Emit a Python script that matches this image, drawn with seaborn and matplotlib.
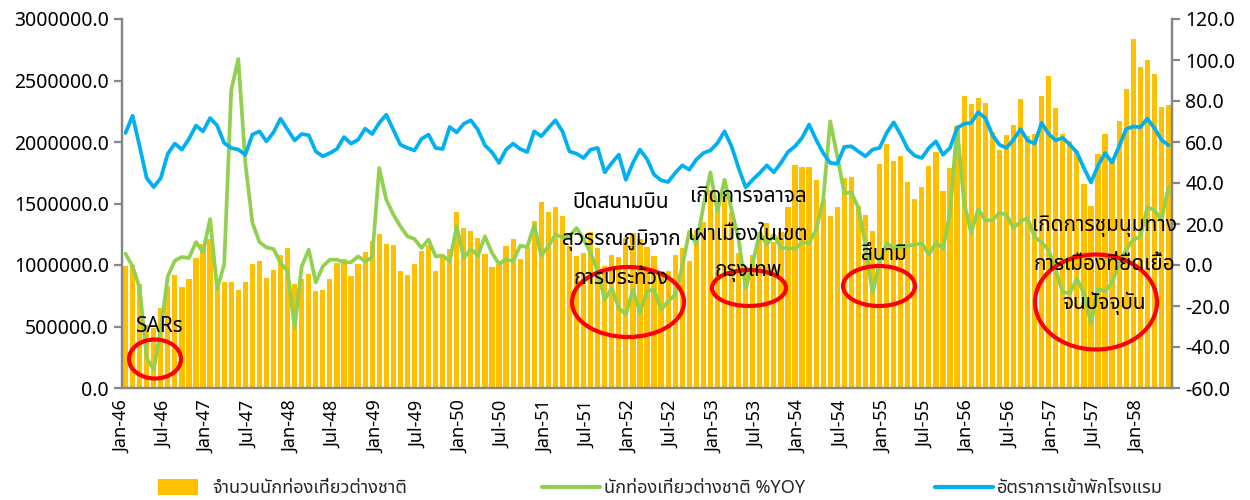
import numpy as np
import pandas as pd
import matplotlib
matplotlib.use("Agg")
import matplotlib.pyplot as plt
import seaborn as sns
from matplotlib import font_manager
from matplotlib.ft2font import FT2Font
from matplotlib.patches import Ellipse, Patch
from matplotlib.lines import Line2D
from matplotlib.ticker import FuncFormatter

# ============================================================
# DATA (monthly, Jan-46 .. May-58)
# ============================================================
visitors = [
    989000, 997000, 848000, 515000, 488000, 650000, 827000, 921000, 818000, 886000, 1057000, 1171000,
    1214000, 867000, 859000, 862000, 799000, 862000, 1008000, 1030000, 892000, 962000, 1079000, 1141000,
    848000, 886000, 927000, 791000, 799000, 886000, 1016000, 1049000, 908000, 1011000, 1103000, 1192000,
    1255000, 1173000, 1160000, 954000, 919000, 1008000, 1117000, 1165000, 949000, 1070000, 1130000, 1434000,
    1304000, 1276000, 1222000, 1092000, 981000, 1011000, 1157000, 1214000, 1051000, 1146000, 1358000, 1512000,
    1428000, 1472000, 1396000, 1157000, 1070000, 1098000, 1266000, 1138000, 989000, 1084000, 1065000, 1220000,
    1260000, 1211000, 1146000, 1076000, 949000, 949000, 1084000, 1138000, 1030000, 1282000, 1350000, 1607000,
    1469000, 1577000, 1428000, 1098000, 989000, 1081000, 1271000, 1341000, 1190000, 1271000, 1472000, 1810000,
    1797000, 1794000, 1694000, 1539000, 1396000, 1474000, 1707000, 1715000, 1477000, 1409000, 1279000, 1821000,
    1986000, 1843000, 1889000, 1677000, 1537000, 1634000, 1808000, 1921000, 1602000, 1791000, 2127000, 2377000,
    2312000, 2360000, 2314000, 2079000, 1938000, 2054000, 2141000, 2350000, 2046000, 2062000, 2371000, 2539000,
    2276000, 2068000, 2011000, 1924000, 1661000, 1482000, 1905000, 2065000, 1843000, 2173000, 2431000, 2837000,
    2612000, 2667000, 2556000, 2285000, 2301000,
]

yoy = [
    5.5, -0.7, -11.2, -45.4, -51.1, -31.5, -5.5, 2.1, 3.9, 3.4, 11.2, 6.2,
    22.4, -11.7, 0.2, 85.2, 100.5, 49.8, 20.8, 11.2, 8.6, 7.8, 1.0, -3.1,
    -30.7, -0.7, 7.5, -8.5, -0.7, 2.6, 2.6, 1.3, 1.3, 4.2, 1.8, 3.7,
    47.3, 31.9, 24.6, 18.9, 14.0, 12.7, 8.3, 12.4, 4.2, 4.6, 1.8, 18.9,
    3.4, 7.8, 4.6, 14.0, 5.9, 0.5, 2.9, 1.8, 9.4, 8.8, 19.5, 4.6,
    9.1, 14.8, 13.7, 14.0, 18.0, 12.7, 5.9, -3.1, -16.9, -11.2, -21.0, -24.2,
    -12.0, -23.4, -12.8, -12.0, -21.8, -17.7, -14.5, -0.7, 16.4, 10.2, 28.6, 45.2,
    26.2, 41.6, 27.0, 12.4, -11.4, 1.0, 15.6, 9.9, 14.8, 8.3, 8.3, 7.8,
    11.1, 10.7, 17.2, 31.9, 70.1, 53.0, 35.1, 35.4, 27.8, 9.9, -13.7, 1.0,
    10.7, 8.3, 8.8, 9.4, 9.9, 10.7, 5.0, 11.1, 7.8, 25.4, 67.3, 30.2,
    15.6, 27.3, 21.8, 21.8, 25.4, 24.6, 18.0, 21.3, 22.9, 13.7, 11.1, 7.2,
    -2.6, -13.3, -13.7, -6.8, -13.7, -28.6, -11.7, -12.8, -8.5, 1.0, 7.5, 12.4,
    13.7, 28.3, 26.7, 22.1, 38.0,
]

occupancy = [
    64.4, 72.8, 57.9, 42.4, 38.0, 42.4, 54.3, 59.2, 56.3, 61.5, 68.0, 65.2,
    71.7, 68.0, 59.5, 57.1, 56.3, 53.8, 63.6, 65.2, 60.3, 64.7, 71.4, 66.0,
    60.8, 63.9, 63.3, 55.4, 53.0, 54.6, 56.6, 62.4, 59.2, 61.1, 66.5, 63.9,
    69.3, 73.3, 66.0, 58.7, 57.1, 55.9, 61.5, 63.6, 57.1, 56.6, 67.3, 64.7,
    68.9, 70.6, 66.0, 58.4, 55.0, 49.8, 56.3, 59.2, 56.6, 55.1, 65.2, 62.8,
    66.8, 70.6, 65.2, 55.4, 54.3, 52.2, 56.3, 57.1, 45.2, 49.8, 53.8, 41.6,
    49.8, 56.3, 51.7, 44.1, 41.3, 40.5, 44.9, 48.6, 46.5, 51.4, 54.6, 55.9,
    59.5, 65.2, 57.9, 47.3, 37.9, 41.6, 44.9, 48.6, 45.2, 49.8, 55.1, 57.9,
    62.0, 68.5, 61.1, 54.6, 49.8, 49.4, 57.6, 57.9, 55.4, 53.0, 56.3, 57.1,
    64.4, 69.6, 63.6, 56.6, 53.3, 52.2, 57.1, 60.3, 53.8, 57.1, 66.8, 68.9,
    69.3, 74.5, 71.7, 63.6, 58.7, 57.1, 61.1, 66.3, 60.8, 59.2, 69.3, 63.9,
    60.8, 62.0, 58.7, 55.0, 47.3, 40.3, 48.4, 54.6, 50.0, 57.9, 66.3, 67.6,
    67.2, 71.4, 66.8, 61.1, 58.4,
]

month_names = ["Jan", "Feb", "Mar", "Apr", "May", "Jun",
               "Jul", "Aug", "Sep", "Oct", "Nov", "Dec"]
months = [f"{m}-{y}" for y in range(46, 59) for m in month_names][:len(visitors)]
tick_labels = months[::6]

label_bar = "จำนวนนักท่องเที่ยวต่างชาติ"
label_yoy = "นักท่องเที่ยวต่างชาติ %YOY"
label_occ = "อัตราการเข้าพักโรงแรม"

# (text lines, centre x px, first line y px, line step px)
notes = [
    (["SARs"], 160, 327, 0),
    (["ปิดสนามบิน", "สุวรรณภูมิจาก", "การประท้วง"], 621, 202, 38.5),
    (["เกิดการจลาจล", "เผาเมืองในเขต", "กรุงเทพ"], 748, 196, 38),
    (["สึนามิ"], 884, 255, 0),
    (["เกิดการชุมนุมทาง", "การเมืองที่ยืดเยื้อ", "จนปัจจุบัน"], 1104, 226, 38.5),
]
# (centre x, centre y, width, height) in px
circles = [(155, 359, 52, 39), (628, 302, 112, 70), (749, 288, 74, 36),
           (879, 286, 72, 40), (1096, 302, 122, 95)]

df = pd.DataFrame({"month": months, "visitors": visitors,
                   "yoy": yoy, "occupancy": occupancy})
df["pos"] = np.arange(len(df))

# ============================================================
# FONT — need one with Thai glyphs
# ============================================================
def find_thai_font():
    prefer = ["Tahoma", "Noto Sans Thai", "Noto Sans Thai UI", "Loma", "Garuda",
              "Sarabun", "TH Sarabun New", "Umpush", "Kinnari", "Norasi"]
    found = []
    for f in font_manager.fontManager.ttflist:
        try:
            if 0x0E01 in FT2Font(f.fname).get_charmap():
                found.append(f.name)
        except Exception:
            pass
    for p in prefer:
        if p in found:
            return p
    return found[0] if found else None

sns.set_theme(style="white")
thai = find_thai_font()
plt.rcParams["font.family"] = ([thai] if thai else []) + ["DejaVu Sans"]

GRAY = "#868686"
W, H = 1250, 500
fig = plt.figure(figsize=(W / 100, H / 100), dpi=100)
ax = fig.add_axes([122 / W, 1 - 388 / H, 1050 / W, 369 / H])

sns.barplot(data=df, x="month", y="visitors", color="#FFC000", saturation=1,
            width=0.74, errorbar=None, linewidth=0, ax=ax)
ax.set_ylim(0, 3000000)
ax.set_yticks(np.arange(0, 3000001, 500000))
ax.yaxis.set_major_formatter(FuncFormatter(lambda v, p: f"{v:.1f}"))

ax2 = ax.twinx()
sns.lineplot(data=df, x="pos", y="yoy", color="#92D050", lw=2.7, ax=ax2)
sns.lineplot(data=df, x="pos", y="occupancy", color="#00B0F0", lw=2.7, ax=ax2)
ax2.set_ylim(-60, 120)
ax2.set_yticks(np.arange(-60, 121, 20))
ax2.yaxis.set_major_formatter(FuncFormatter(lambda v, p: f"{v:.1f}"))

ax.set_xlim(-0.5, len(df) - 0.5)
ax.set_xticks(np.arange(0, len(df), 6) - 0.5)
ax.set_xticklabels(tick_labels, rotation=90)

for a in (ax, ax2):
    a.set_xlabel("")
    a.set_ylabel("")
    a.spines["top"].set_visible(False)
    for s in ("left", "right", "bottom"):
        a.spines[s].set_color(GRAY)
        a.spines[s].set_linewidth(1.6)
    a.tick_params(colors=GRAY, width=1.6, length=6, direction="out",
                  labelsize=14, labelcolor="black")
ax.tick_params(axis="x", labelsize=13, pad=3)

# annotations
for lines, cx, cy, step in notes:
    for k, t in enumerate(lines):
        fig.text(cx / W, 1 - (cy + k * step) / H, t, ha="center", va="center",
                 fontsize=15, color="black")
for cx, cy, w, h in circles:
    fig.add_artist(Ellipse((cx / W, 1 - cy / H), w / W, h / H,
                           transform=fig.transFigure, fill=False,
                           ec="#FF0000", lw=3))

# legend
fig.legend([Patch(facecolor="#FFC000", linewidth=0)], [label_bar], loc="center left",
           bbox_to_anchor=(142 / W, 1 - 488 / H), frameon=False, fontsize=13,
           handlelength=2.2, handleheight=1.0, handletextpad=0.8)
fig.legend([Line2D([], [], color="#92D050", lw=3)], [label_yoy], loc="center left",
           bbox_to_anchor=(526 / W, 1 - 488 / H), frameon=False, fontsize=13,
           handlelength=3.2, handletextpad=0.2)
fig.legend([Line2D([], [], color="#00B0F0", lw=3)], [label_occ], loc="center left",
           bbox_to_anchor=(919 / W, 1 - 488 / H), frameon=False, fontsize=13,
           handlelength=3.2, handletextpad=0.2)

fig.savefig("out.png", dpi=100)
